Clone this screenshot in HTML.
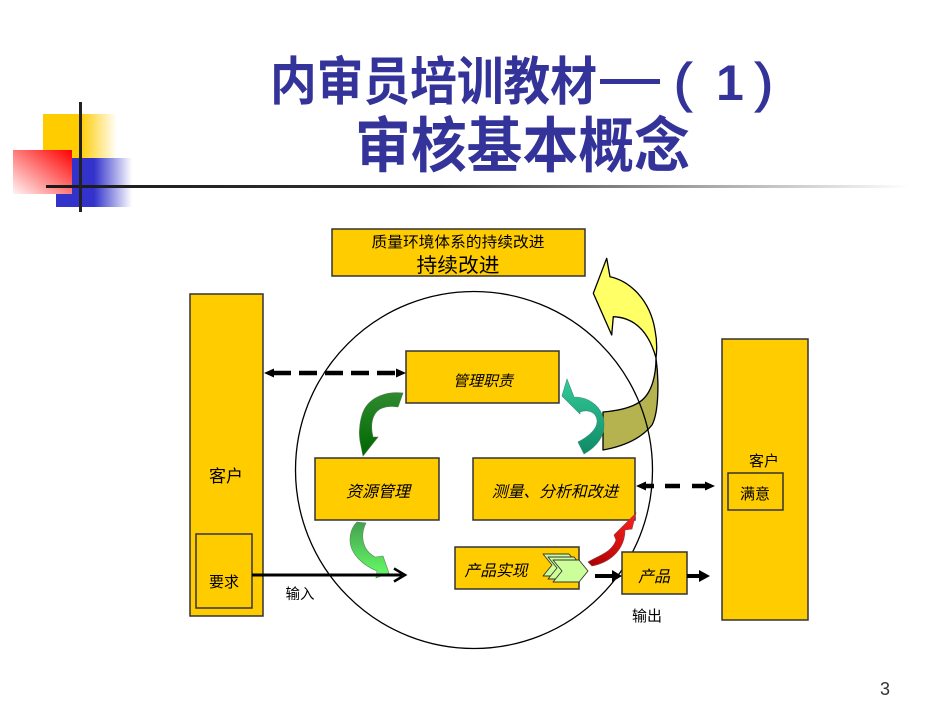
<!DOCTYPE html>
<html>
<head>
<meta charset="utf-8">
<style>
html,body{margin:0;padding:0;background:#fff;}
body{width:950px;height:713px;overflow:hidden;}
svg{display:block;}
text{font-family:"Liberation Sans","Noto Sans CJK SC",sans-serif;}
</style>
</head>
<body>
<svg width="950" height="713" viewBox="0 0 950 713" xmlns="http://www.w3.org/2000/svg">
<defs>
  <linearGradient id="gy" x1="0" y1="0" x2="1" y2="0">
    <stop offset="0" stop-color="#FFCC00"/>
    <stop offset="0.5" stop-color="#FFCC00"/>
    <stop offset="1" stop-color="#FFFFFF"/>
  </linearGradient>
  <linearGradient id="gb" x1="0" y1="0" x2="1" y2="0">
    <stop offset="0" stop-color="#3333CC"/>
    <stop offset="0.5" stop-color="#3333CC"/>
    <stop offset="1" stop-color="#FFFFFF"/>
  </linearGradient>
  <linearGradient id="gr" x1="1" y1="0" x2="0" y2="1">
    <stop offset="0" stop-color="#FF0000"/>
    <stop offset="1" stop-color="#FFF4F4"/>
  </linearGradient>
  <linearGradient id="gl" x1="0" y1="0" x2="1" y2="0">
    <stop offset="0" stop-color="#1a1a1a"/>
    <stop offset="0.45" stop-color="#333333"/>
    <stop offset="1" stop-color="#FFFFFF"/>
  </linearGradient>
  <linearGradient id="gdg" x1="0" y1="0" x2="0" y2="1">
    <stop offset="0" stop-color="#2E8B2E"/>
    <stop offset="1" stop-color="#006600"/>
  </linearGradient>
  <linearGradient id="glg" x1="0" y1="0" x2="0" y2="1">
    <stop offset="0" stop-color="#44A050"/>
    <stop offset="1" stop-color="#66FF66"/>
  </linearGradient>
  <linearGradient id="gt" x1="0" y1="0" x2="0" y2="1">
    <stop offset="0" stop-color="#33CC99"/>
    <stop offset="1" stop-color="#0F8A66"/>
  </linearGradient>
  <linearGradient id="grd" x1="0" y1="1" x2="1" y2="0">
    <stop offset="0" stop-color="#AA0000"/>
    <stop offset="1" stop-color="#FF2020"/>
  </linearGradient>
</defs>

<!-- decoration -->
<rect x="43" y="114" width="74" height="44" fill="url(#gy)"/>
<rect x="56" y="158" width="76" height="49" fill="url(#gb)"/>
<rect x="13" y="150" width="59" height="44" fill="url(#gr)"/>
<rect x="46" y="185" width="864" height="3" fill="url(#gl)"/>
<rect x="79" y="102" width="3" height="110" fill="#222"/>

<!-- title -->
<text x="270" y="100" font-size="52" font-weight="bold" fill="#333399" textLength="327" lengthAdjust="spacingAndGlyphs">内审员培训教材</text>
<rect x="600" y="79" width="60" height="5" fill="#333399"/>
<text x="674" y="101" font-size="54" fill="#333399" stroke="#333399" stroke-width="1.2">(</text>
<text x="716" y="100" font-size="50" font-weight="bold" fill="#333399">1</text>
<text x="755" y="101" font-size="54" fill="#333399" stroke="#333399" stroke-width="1.2">)</text>
<text x="355" y="167" font-size="60" font-weight="bold" fill="#333399" textLength="335" lengthAdjust="spacingAndGlyphs">审核基本概念</text>

<!-- big yellow curved arrow (under circle) -->
<path d="M606.7,258.3 L610,276.7 C630,281 650,300 655,330 C657,340 657,350 656,358 Q645,318 613.3,316.7 L611.7,335 L593.3,293.3 Z" fill="#FFFF66" stroke="#000" stroke-width="1.3" stroke-linejoin="round"/>
<path d="M656,358 C656,375 652,395 638,403 C628,409 615,411 603,412 L603,450 C620,447 640,440 652,425 C659,412 659,380 656,358 Z" fill="#B5B34F" stroke="#000" stroke-width="1.3" stroke-linejoin="round"/>

<!-- circle -->
<circle cx="474" cy="470" r="178.5" fill="none" stroke="#000" stroke-width="1.3"/>

<!-- top box -->
<rect x="332" y="229" width="253" height="47" fill="#FFCC00" stroke="#333" stroke-width="1.5"/>
<text x="458" y="247" font-size="15" text-anchor="middle" fill="#000" textLength="173" lengthAdjust="spacingAndGlyphs">质量环境体系的持续改进</text>
<text x="458" y="272" font-size="20" text-anchor="middle" fill="#000" textLength="83" lengthAdjust="spacingAndGlyphs">持续改进</text>

<!-- left customer -->
<rect x="190" y="294" width="73" height="322" fill="#FFCC00" stroke="#333" stroke-width="1.5"/>
<text x="226" y="482" font-size="17" text-anchor="middle" fill="#000">客户</text>
<rect x="196" y="534" width="56" height="74" fill="#FFCC00" stroke="#333" stroke-width="1.5"/>
<text x="224" y="587" font-size="15" text-anchor="middle" fill="#000">要求</text>

<!-- right customer -->
<rect x="722" y="339" width="86" height="281" fill="#FFCC00" stroke="#333" stroke-width="1.5"/>
<text x="764" y="466" font-size="15" text-anchor="middle" fill="#000">客户</text>
<rect x="728" y="473" width="55" height="37" fill="#FFCC00" stroke="#333" stroke-width="1.5"/>
<text x="755" y="499" font-size="15" text-anchor="middle" fill="#000">满意</text>

<!-- inner boxes -->
<rect x="406" y="351" width="153" height="52" fill="#FFCC00" stroke="#333" stroke-width="1.5"/>
<text x="483" y="386" font-size="15" font-style="italic" text-anchor="middle" fill="#000">管理职责</text>

<rect x="315" y="458" width="124" height="62" fill="#FFCC00" stroke="#333" stroke-width="1.5"/>
<text x="378" y="497" font-size="16" font-style="italic" text-anchor="middle" fill="#000">资源管理</text>

<rect x="473" y="458" width="162" height="62" fill="#FFCC00" stroke="#333" stroke-width="1.5"/>
<text x="555" y="497" font-size="15.8" font-style="italic" text-anchor="middle" fill="#000">测量、分析和改进</text>

<rect x="455" y="547" width="124" height="42" fill="#FFCC00" stroke="#333" stroke-width="1.5"/>
<text x="496" y="576" font-size="15.8" font-style="italic" text-anchor="middle" fill="#000">产品实现</text>

<rect x="622" y="552" width="65" height="42" fill="#FFCC00" stroke="#333" stroke-width="1.5"/>
<text x="654" y="582" font-size="16" font-style="italic" text-anchor="middle" fill="#000">产品</text>

<!-- chevrons -->
<g fill="#CCFF99" stroke="#333" stroke-width="0.9" stroke-linejoin="round">
  <polygon points="543,554 569,554 578,565 569,576 543,576 552,565"/>
  <polygon points="548,557 574,557 583,568 574,579 548,579 557,568"/>
  <polygon points="553,560 579,560 588,571 579,582 553,582 562,571"/>
</g>

<!-- curved small arrows -->
<path d="M403,393 C385,391 367,398 362,415 C359,425 359,435 360,441 L363,456 L378,437 L373,437 C370,425 372,414 380,409 C386,406 392,406 398,407 Z" fill="url(#gdg)" stroke="#4a7a4a" stroke-width="0.6"/>
<path d="M357,522 L366,523 C360,535 362,550 375,557 L383,556 L389,573 L376,578 L377,571 C362,565 350,553 350,540 C350,532 353,526 357,522 Z" fill="url(#glg)" stroke="#5a8a5a" stroke-width="0.6"/>
<path d="M562,396 L567,379 L574,397 C590,397 604,408 604,425 C604,438 596,447 584,454 L578,442 C590,436 598,428 597,420 C596,412 588,409 580,412 L580,414 Z" fill="url(#gt)" stroke="#3a8a7a" stroke-width="0.6"/>
<path d="M588,562 C600,555 612,552 616,540 L614,535 L636,513 L632,529 L625,530 C625,548 612,562 592,566 Z" fill="url(#grd)" stroke="#884444" stroke-width="0.6"/>

<!-- dashed arrows -->
<line x1="273" y1="373" x2="397" y2="373" stroke="#000" stroke-width="4.5" stroke-dasharray="18 8"/>
<polygon points="264,373 274,368.5 274,377.5" fill="#000"/>
<polygon points="406,373 396,368.5 396,377.5" fill="#000"/>

<line x1="645" y1="486" x2="707" y2="486" stroke="#000" stroke-width="4.5" stroke-dasharray="9 11 15 12 15"/>
<polygon points="636,486 646,481.5 646,490.5" fill="#000"/>
<polygon points="715,486 705,481.5 705,490.5" fill="#000"/>

<!-- input line -->
<line x1="252" y1="575" x2="402" y2="575" stroke="#000" stroke-width="3"/>
<polyline points="394,568.5 405,575 394,581.5" fill="none" stroke="#000" stroke-width="2.5"/>
<text x="300" y="599" font-size="14.5" text-anchor="middle" fill="#000">输入</text>

<!-- output arrows -->
<line x1="595" y1="576" x2="614" y2="576" stroke="#000" stroke-width="4"/>
<polygon points="622,576 612,570 612,582" fill="#000"/>
<line x1="687" y1="576" x2="700" y2="576" stroke="#000" stroke-width="4"/>
<polygon points="710,576 699,570 699,582" fill="#000"/>
<text x="647" y="621" font-size="15" text-anchor="middle" fill="#000">输出</text>

<!-- page number -->
<text x="885" y="695" font-size="18" text-anchor="middle" fill="#333">3</text>
</svg>
</body>
</html>
